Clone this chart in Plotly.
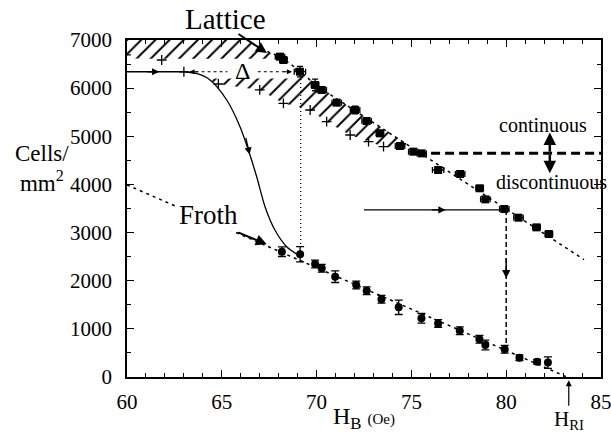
import plotly.graph_objects as go

# ---------------- data ----------------
lattice_x = [68.07, 68.25, 69.12, 69.92, 70.27, 71.06, 72.03, 72.64, 73.34, 74.4,
             75.1, 75.54, 76.41, 77.57, 78.6, 78.9, 79.9, 80.65, 81.6, 82.25]
lattice_y = [6654, 6585, 6342, 6066, 5962, 5698, 5546, 5318, 5062, 4798,
             4680, 4645, 4300, 4217, 3920, 3690, 3490, 3309, 3108, 2970]
lattice_ex = [0.25, 0.2, 0.3, 0.2, 0.25, 0.25, 0.25, 0.25, 0.2, 0.25,
              0.25, 0.25, 0.3, 0.25, 0.2, 0.25, 0.25, 0.25, 0.2, 0.2]
lattice_ey = [60, 0, 110, 120, 60, 0, 80, 0, 60, 0,
              0, 0, 0, 0, 0, 0, 60, 0, 0, 0]

lower_x = [59.95, 61.83, 64.82, 67.0, 68.25, 69.66, 70.53, 71.77, 72.74, 73.53]
lower_y = [6689, 6585, 6086, 5962, 5685, 5546, 5303, 5027, 4888, 4784]

froth_x = [68.17, 69.13, 69.92, 70.27, 70.98, 72.09, 72.64, 73.42, 74.33, 75.53,
           76.41, 77.55, 78.59, 78.9, 79.92, 80.7, 81.63, 82.2]
froth_y = [2603, 2550, 2347, 2258, 2083, 1911, 1793, 1614, 1448, 1219,
           1113, 962, 783, 665, 575, 401, 318, 300]
froth_ey = [100, 160, 80, 80, 120, 80, 80, 80, 150, 100,
            80, 80, 80, 100, 80, 60, 50, 120]

froth_fit_x = [60, 83.2]
froth_fit_y = [3990, 0]

lattice_fit_x = [67.4, 68.1, 69.1, 70.0, 80.0, 84.1]
lattice_fit_y = [6760, 6650, 6360, 6050, 3490, 2440]

hatch_upper_x = [60, 66.3, 67.4, 68.1, 69.1, 70.0, 71.0, 72.0, 73.0, 74.0, 75.3]
hatch_upper_y = [7000, 7000, 6760, 6650, 6360, 6080, 5800, 5540, 5290, 5040, 4700]
hatch_lower_x = [60, 61.83, 64.82, 67.0, 68.25, 69.66, 70.53, 71.77, 72.74, 73.53, 75.3]
hatch_lower_y = [6620, 6585, 6086, 5962, 5685, 5546, 5303, 5027, 4888, 4784, 4700]

mask_x = [60, 68.85, 68.85, 60]
mask_y = [6200, 6200, 6610, 6610]

flat_x = [60, 63.0]
flat_y = [6340, 6340]
curve_x = [63.0, 63.7, 64.38, 65.26, 65.96, 66.4, 66.84, 67.28, 67.8, 68.42, 69.03]
curve_y = [6340, 6300, 6170, 5754, 5200, 4715, 4160, 3538, 3054, 2707, 2534]

delta_left_x = [63.3, 65.3]
delta_right_x = [66.9, 68.7]
delta_y = [6340, 6340]

vdot_x = [69.16, 69.16]
vdot_y = [6190, 2720]

harrow_x = [72.5, 79.9]
harrow_y = [3470, 3470]

vdash_x = [80.0, 80.0]
vdash_y = [3470, 620]

cont_x = [75.3, 85]
cont_y = [4650, 4650]

x_ticks = [60, 65, 70, 75, 80, 85]
y_ticks = [0, 1000, 2000, 3000, 4000, 5000, 6000, 7000]

FONT = "Liberation Serif, Times New Roman, DejaVu Serif, serif"

fig = go.Figure()

def line(x, y, dash="solid", width=1.2):
    fig.add_trace(go.Scatter(x=x, y=y, mode="lines",
                             line=dict(color="black", width=width, dash=dash),
                             hoverinfo="skip", showlegend=False))

# hatched band
fig.add_trace(go.Scatter(
    x=hatch_upper_x + hatch_lower_x[::-1], y=hatch_upper_y + hatch_lower_y[::-1],
    mode="lines", line=dict(width=0), fill="toself", fillcolor="rgba(0,0,0,0)",
    fillpattern=dict(shape="/", fgcolor="black", bgcolor="white", size=10,
                     solidity=0.2, fgopacity=1),
    hoverinfo="skip", showlegend=False))
# white box behind the Delta arrow
fig.add_trace(go.Scatter(x=mask_x, y=mask_y, mode="lines", line=dict(width=0),
                         fill="toself", fillcolor="white", hoverinfo="skip",
                         showlegend=False))

line(froth_fit_x, froth_fit_y, dash="3px,4px", width=1.5)
line(lattice_fit_x, lattice_fit_y, dash="3px,4px", width=1.5)
line(flat_x, flat_y, width=1.3)
fig.add_trace(go.Scatter(x=curve_x, y=curve_y, mode="lines",
                         line=dict(color="black", width=1.3, shape="spline", smoothing=0.8),
                         hoverinfo="skip", showlegend=False))
line(delta_left_x, delta_y, dash="3px,3px", width=1.2)
line(delta_right_x, delta_y, dash="3px,3px", width=1.2)
line(vdot_x, vdot_y, dash="1px,3px", width=1.3)
line(harrow_x, harrow_y, width=1.2)
line(vdash_x, vdash_y, dash="5px,3px", width=1.5)
line(cont_x, cont_y, dash="9px,5px", width=3)

# curve start tick
fig.add_trace(go.Scatter(x=[flat_x[1]], y=[flat_y[1]], mode="markers",
                         marker=dict(symbol="cross-thin", size=7, line=dict(color="black", width=1.3)),
                         hoverinfo="skip", showlegend=False))

# lower (+) points
fig.add_trace(go.Scatter(x=lower_x, y=lower_y, mode="markers",
                         marker=dict(symbol="cross-thin", size=7, line=dict(color="black", width=1.3)),
                         showlegend=False))

# lattice points
fig.add_trace(go.Scatter(x=lattice_x, y=lattice_y, mode="markers",
                         marker=dict(symbol="square", size=8, color="black"),
                         error_x=dict(type="data", array=lattice_ex, color="black", thickness=1.3, width=3),
                         error_y=dict(type="data", array=lattice_ey, color="black", thickness=1.3, width=3),
                         showlegend=False))

# froth points
fig.add_trace(go.Scatter(x=froth_x, y=froth_y, mode="markers",
                         marker=dict(symbol="circle", size=8, color="black"),
                         error_y=dict(type="data", array=froth_ey, color="black", thickness=1.3, width=4),
                         showlegend=False))

def arrow(x, y, ax, ay, width=1.3, size=1.1, head=2):
    fig.add_annotation(x=x, y=y, ax=ax, ay=ay, xref="x", yref="y", axref="x", ayref="y",
                       text="", showarrow=True, arrowhead=head, arrowsize=size,
                       arrowwidth=width, arrowcolor="black")

# arrows
arrow(67.38, 6730, 65.8, 7146, width=2)           # Lattice pointer
arrow(67.37, 2755, 65.78, 3018, width=2)          # Froth pointer
arrow(61.7, 6340, 61.0, 6340)                     # flat line
arrow(66.47, 4620, 66.25, 5000)                   # on curve
arrow(63.3, 6340, 63.8, 6340, width=1, size=1)    # Delta left
arrow(68.7, 6340, 68.2, 6340, width=1, size=1)    # Delta right
arrow(76.8, 3470, 76.0, 3470)                     # horizontal arrow
arrow(80.0, 2050, 80.0, 2500, width=1.5)          # vertical dashed arrow
arrow(82.3, 5080, 82.3, 4650, width=2.5, size=1)  # up
arrow(82.3, 4230, 82.3, 4650, width=2.5, size=1)  # down

# texts
fig.add_annotation(x=65.22, y=1.062, xref="x", yref="paper", yanchor="middle",
                   text="Lattice", showarrow=False,
                   font=dict(family=FONT, size=29, color="black"))
fig.add_annotation(x=64.29, y=3365, xref="x", yref="y", text="Froth",
                   showarrow=False, bgcolor="white",
                   font=dict(family=FONT, size=27, color="black"))
fig.add_annotation(x=66.1, y=6356, xref="x", yref="y", text="Δ",
                   showarrow=False, font=dict(family=FONT, size=24, color="black"))
fig.add_annotation(x=81.96, y=5235, xref="x", yref="y", text="continuous",
                   showarrow=False, font=dict(family=FONT, size=20, color="black"))
fig.add_annotation(x=82.4, y=4057, xref="x", yref="y", text="discontinuous",
                   showarrow=False, font=dict(family=FONT, size=20, color="black"))
fig.add_annotation(x=83.3, y=-0.01, xref="x", yref="paper", text="H<sub>RI</sub>",
                   showarrow=True, ax=0, ay=40, arrowhead=2, arrowsize=1, arrowwidth=1.2,
                   arrowcolor="black", font=dict(family=FONT, size=21, color="black"))
fig.add_annotation(x=-0.18, y=0.62, xref="paper", yref="paper",
                   xanchor="center", yanchor="middle",
                   text="Cells/<br>mm<sup>2</sup>", showarrow=False, align="center",
                   font=dict(family=FONT, size=23, color="black"))
fig.add_annotation(x=0.5, y=-0.122, xref="paper", yref="paper",
                   xanchor="center", yanchor="middle",
                   text="H<sub>B</sub> <span style='font-size:15px'>(Oe)</span>",
                   showarrow=False, font=dict(family=FONT, size=24, color="black"))

axis_common = dict(showline=True, linecolor="black", linewidth=1.5, mirror="allticks",
                   ticks="inside", tickcolor="black", tickwidth=1.2, showgrid=False,
                   zeroline=False, automargin=False, ticklabeloverflow="allow",
                   tickfont=dict(family=FONT, size=21, color="black"))

fig.update_xaxes(range=[60, 85], tickvals=x_ticks, ticklen=7,
                 minor=dict(ticks="inside", dtick=1, ticklen=4, tickcolor="black", tickwidth=1),
                 ticklabelstandoff=5, **axis_common)
fig.update_yaxes(range=[0, 7000], tickvals=y_ticks, ticklen=7,
                 minor=dict(ticks="inside", dtick=500, ticklen=4, tickcolor="black", tickwidth=1),
                 ticklabelstandoff=9, **axis_common)

fig.update_layout(width=611, height=433, margin=dict(l=127, r=10, t=40, b=56),
                  plot_bgcolor="white", paper_bgcolor="white", showlegend=False,
                  font=dict(family=FONT, color="black"))

fig.write_html("out.html", config={"displayModeBar": False},
               post_script="document.body.style.margin='0';document.body.style.overflow='hidden';")
